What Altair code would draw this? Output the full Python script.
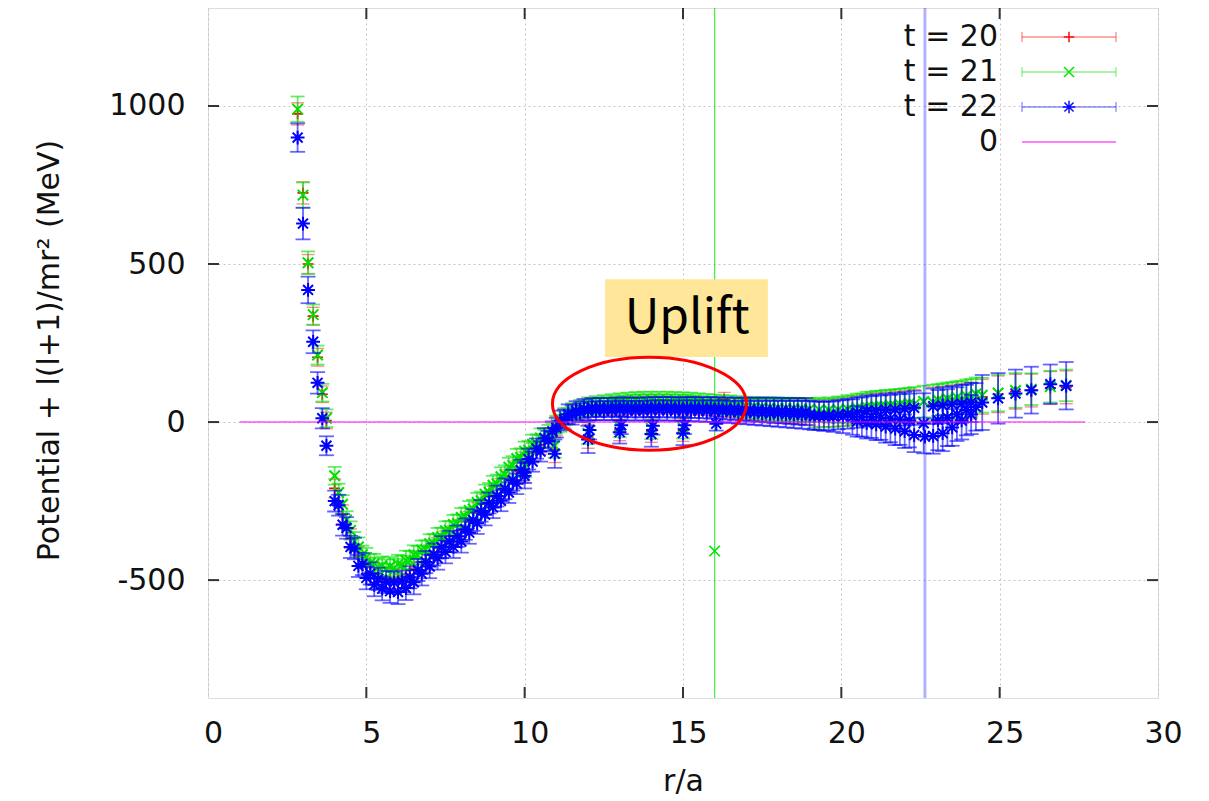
import altair as alt
import pandas as pd

# ------------------------------------------------------------------ data
# r/a positions shared by the three main series
R_MAIN = [2.83, 3.00, 3.16, 3.32, 3.46, 3.61, 3.74,
          4.00, 4.25, 4.50, 4.75, 5.00, 5.25, 5.50, 5.75, 6.00, 6.25, 6.50, 6.75,
          7.00, 7.25, 7.50, 7.75, 8.00, 8.25, 8.50, 8.75, 9.00, 9.25, 9.50, 9.75,
          10.00, 10.25, 10.50, 10.75, 11.00, 11.25, 11.50, 11.75,
          12.00, 12.25, 12.50, 12.75, 13.00, 13.25, 13.50, 13.75, 14.00, 14.25,
          14.50, 14.75, 15.00, 15.25, 15.50, 15.75, 16.00, 16.25, 16.50, 16.75,
          17.00, 17.25, 17.50, 17.75, 18.00, 18.25, 18.50, 18.75, 19.00,
          19.3, 19.6, 19.9, 20.2, 20.5, 20.8, 21.1, 21.4, 21.7, 22.0, 22.3, 22.9,
          23.2, 23.5, 23.8, 24.1,
          24.45, 24.95, 25.5, 26.0, 26.6, 27.1]

# t = 20 (red)
T20_V = [975, 725, 500, 335, 205, 88, 5,
         -210, -292, -369, -425, -460, -481, -491, -496, -494, -481, -463, -442,
         -421, -398, -377, -360, -340, -315, -287, -260, -235, -211, -183, -155,
         -126, -98, -72, -49, -13, 12, 28, 37,
         44, 46, 48, 50, 51, 52, 53, 54, 54, 54, 54, 53, 52, 52, 50, 50, 48,
         46, 44, 42, 40, 39, 38, 36, 35, 34, 33, 32, 31,
         28, 28, 30, 33, 36, 41, 42, 44, 45, 47, 50, 56, 58, 61, 64, 68,
         80, 88, 96, 100, 108, 110]
T20_E = [35, 35, 30, 28, 28, 26, 26,
         30, 30, 31, 31, 32, 32, 32, 32, 32, 32, 32, 32,
         32, 32, 32, 32, 32, 32, 32, 32, 32, 32, 32, 32,
         31, 31, 30, 30, 30, 29, 28, 28,
         28, 28, 28, 28, 28, 28, 28, 28, 28, 28, 28, 28, 28, 28, 28, 28, 28,
         29, 30, 31, 32, 33, 34, 35, 36, 37, 38, 39, 40,
         42, 43, 44, 45, 46, 48, 49, 50, 51, 52, 53, 54, 55, 56, 57, 58,
         55, 58, 55, 52, 52, 52]

# t = 21 (green)
T21_V = [990, 718, 504, 340, 212, 93, 12,
         -170, -260, -343, -395, -428, -447, -455, -457, -450, -437, -420, -405,
         -385, -365, -344, -324, -302, -280, -254, -228, -200, -173, -143, -115,
         -92, -70, -50, -38, -8, 17, 34, 44,
         53, 57, 60, 63, 66, 68, 70, 71, 71, 71, 71, 70, 69, 68, 66, 64, 62,
         59, 57, 54, 51, 49, 48, 46, 45, 44, 43, 42, 41,
         39, 38, 39, 41, 44, 48, 49, 50, 51, 53, 56, 62, 65, 68, 71, 76,
         85, 92, 100, 104, 112, 116]
T21_E = [40, 40, 36, 32, 30, 28, 28,
         28, 29, 29, 30, 30, 30, 30, 30, 30, 30, 30, 30,
         30, 30, 30, 30, 30, 30, 30, 30, 30, 30, 30, 30,
         30, 30, 30, 29, 28, 27, 26, 26,
         25, 25, 25, 25, 25, 25, 25, 25, 25, 25, 25, 25, 25, 25, 25, 25, 25,
         26, 27, 28, 29, 30, 31, 32, 33, 33, 34, 34, 35,
         38, 40, 42, 44, 46, 48, 50, 52, 53, 54, 55, 56, 57, 58, 59, 60,
         55, 58, 55, 50, 50, 50]

# t = 22 (blue)
T22_V = [900, 628, 418, 254, 124, 12, -75,
         -250, -325, -395, -455, -493, -515, -527, -535, -538, -525, -507, -480,
         -457, -431, -411, -395, -378, -350, -320, -293, -270, -249, -223, -195,
         -160, -125, -93, -60, -18, 8, 22, 30,
         35, 36, 36, 36, 37, 36, 36, 36, 37, 37, 37, 36, 36, 36, 35, 35, 34,
         34, 32, 31, 30, 29, 28, 27, 26, 25, 24, 23, 22,
         20, 20, 23, 26, 30, 35, 37, 39, 40, 42, 45, 50, 53, 56, 58, 62,
         62, 75, 90, 101, 120, 115]
T22_E = [45, 50, 42, 36, 34, 32, 30,
         33, 34, 35, 35, 36, 36, 37, 37, 38, 38, 38, 37,
         37, 36, 36, 35, 35, 35, 34, 34, 34, 33, 33, 33,
         33, 32, 32, 32, 31, 31, 30, 30,
         30, 30, 30, 30, 31, 31, 31, 31, 32, 32, 32, 32, 33, 33, 33, 34, 34,
         35, 35, 36, 37, 38, 39, 40, 41, 42, 43, 44, 45,
         45, 46, 46, 47, 48, 49, 50, 51, 52, 53, 54, 56, 57, 58, 60, 62,
         87, 80, 76, 74, 62, 75]

# second family of lattice points lying between the main r values (4.125 ... 18.875)
R_MID = [4.125, 4.375, 4.625, 4.875, 5.125, 5.375, 5.625, 5.875, 6.125, 6.375,
         6.625, 6.875, 7.125, 7.375, 7.625, 7.875, 8.125, 8.375, 8.625, 8.875,
         9.125, 9.375, 9.625, 9.875, 10.125, 10.375, 10.625, 10.875, 11.125, 11.375,
         11.625, 11.875, 12.125, 12.375, 12.625, 12.875, 13.125, 13.375, 13.625, 13.875,
         14.125, 14.375, 14.625, 14.875, 15.125, 15.375, 15.625, 15.875, 16.125, 16.375,
         16.625, 16.875, 17.125, 17.375, 17.625, 17.875, 18.125, 18.375, 18.625, 18.875]
T21_MV = [-223, -310, -377, -420, -446, -459, -464, -462, -452, -437,
          -421, -403, -383, -363, -342, -321, -299, -275, -249, -222,
          -195, -166, -137, -112, -89, -68, -52, -31, -4, 18,
          31, 41, 47, 51, 54, 57, 59, 61, 63, 63,
          63, 63, 63, 62, 61, 59, 57, 55, 53, 50,
          48, 45, 42, 41, 39, 38, 37, 36, 35, 34]
T21_ME = [28, 28, 29, 29, 29, 29, 29, 29, 29, 29,
          29, 29, 29, 29, 29, 29, 29, 29, 29, 29,
          29, 29, 29, 29, 29, 29, 28, 28, 27, 26,
          26, 25, 25, 25, 25, 25, 25, 25, 25, 25,
          25, 25, 25, 25, 25, 25, 25, 25, 26, 27,
          28, 29, 30, 31, 32, 32, 33, 33, 34, 34]
T22_MV = [-263, -335, -400, -449, -479, -496, -506, -508, -504, -491,
          -468, -443, -419, -396, -378, -361, -339, -310, -281, -256,
          -234, -211, -184, -152, -117, -84, -51, -30, 5, 25,
          36, 43, 46, 46, 46, 47, 47, 46, 46, 47,
          47, 47, 47, 46, 46, 46, 45, 45, 44, 43,
          42, 41, 40, 39, 38, 37, 36, 35, 34, 33]
T22_ME = [33, 34, 34, 35, 35, 35, 35, 34, 34, 35,
          35, 35, 35, 35, 34, 34, 34, 34, 34, 33,
          33, 33, 33, 33, 33, 32, 32, 32, 31, 31,
          30, 30, 30, 30, 30, 30, 31, 31, 31, 31,
          32, 32, 32, 32, 33, 33, 33, 34, 34, 35,
          35, 36, 37, 38, 39, 40, 40, 41, 42, 43]

# fan region between r = 19 and 24.5 (middle family)
R_FAN = [19.15, 19.45, 19.75, 20.05, 20.35, 20.65, 20.95, 21.25, 21.55, 21.85,
         22.15, 22.6, 23.05, 23.35, 23.65, 23.95, 24.25]
T21_FV = [27, 28, 30, 33, 38, 43, 48, 51, 53, 56, 59, 65, 70, 74, 78, 83, 89]
T21_FE = [45, 45, 45, 46, 46, 47, 47, 48, 48, 49, 49, 50, 50, 51, 51, 52, 52]
T22_FV = [20, 18, 17, 17, 16, 16, 16, 14, 11, 8, 5, -4, 6, 14, 25, 38, 48]
T22_FE = [45, 46, 48, 52, 56, 62, 66, 70, 75, 80, 85, 95, 95, 90, 85, 80, 75]

# additional points (on-axis "fingers", lower branch of the fan)
R20_X = [10.0, 10.95, 12.0, 13.0, 14.0, 15.0, 16.3]
T20_XV = [-155, -88, -45, -25, -28, -26, 72]
T20_XE = [36, 40, 38, 34, 36, 35, 22]

R21_X = [10.0, 10.95, 12.0, 13.0, 14.0, 15.0]
T21_XV = [-140, -75, -35, -15, -20, -18]
T21_XE = [35, 38, 35, 33, 34, 34]

R22_X = [10.0, 10.95, 12.0, 12.05, 13.0, 13.05, 14.0, 14.05, 15.0, 15.05, 16.05,
         20.5, 20.8, 21.1, 21.4, 21.7, 22.0, 22.3, 22.9, 23.2, 23.5, 23.8, 24.1]
T22_XV = [-170, -100, -55, -25, -32, -10, -38, -12, -35, -10, -5,
          2, -3, -7, -14, -21, -29, -41, -44, -35, -17, 5, 24]
T22_XE = [40, 45, 43, 30, 36, 28, 40, 28, 38, 28, 22,
          48, 49, 50, 51, 52, 53, 54, 56, 57, 58, 60, 62]

# outliers with enormous error bars
OUT21_R, OUT21_V, OUT21_E = [16.0], [-408], [4000]
OUT22_R, OUT22_V, OUT22_E = [22.64], [-46], [4000]

# zero line
ZERO_R = [1.0, 27.7]
ZERO_V = [0, 0]

X_TICKS = [0, 5, 10, 15, 20, 25, 30]
X_TICKS_INNER = [5, 10, 15, 20, 25]
Y_TICKS = [-500, 0, 500, 1000]
LEGEND = ["t = 20", "t = 21", "t = 22", "0"]

# ------------------------------------------------------------------ style
W, H = 950, 690
FONT = "DejaVu Sans"
RED, GREEN, BLUE, MAG = "#ff0000", "#00e000", "#0000ff", "#ff00ff"
FRAME = "#333333"

PLUS = "M -1 0 L 1 0 M 0 -1 L 0 1"
CROSS = "M -1 -1 L 1 1 M -1 1 L 1 -1"
STAR = "M -1 0 L 1 0 M 0 -1 L 0 1 M -0.72 -0.72 L 0.72 0.72 M -0.72 0.72 L 0.72 -0.72"
ELLIPSE = ("M -1 0 C -1 -0.2646 -0.5523 -0.479 0 -0.479 C 0.5523 -0.479 1 -0.2646 1 0 "
           "C 1 0.2646 0.5523 0.479 0 0.479 C -0.5523 0.479 -1 0.2646 -1 0 Z")

xs = alt.Scale(domain=[0, 30], nice=False, zero=False)
ys = alt.Scale(domain=[-873, 1310], nice=False, zero=False)

XAXIS = alt.Axis(values=X_TICKS, grid=True, gridDash=[2, 3], gridColor="#c4c4c4",
                 gridWidth=1, domain=False, ticks=False, tickSize=0,
                 labelFont=FONT, labelFontSize=30, labelColor="#111111",
                 labelPadding=20, labelOffset=5, labelFlush=False,
                 labelExpr="'' + datum.value",
                 titleFont=FONT, titleFontSize=30, titleFontWeight="normal",
                 titleColor="#111111", titleY=92, titleBaseline="alphabetic")
YAXIS = alt.Axis(values=Y_TICKS, grid=True, gridDash=[2, 3], gridColor="#c4c4c4",
                 gridWidth=1, domain=False, ticks=False, tickSize=0,
                 labelFont=FONT, labelFontSize=30, labelColor="#111111",
                 labelPadding=23, labelFlush=False,
                 labelExpr="'' + datum.value",
                 titleFont=FONT, titleFontSize=30, titleFontWeight="normal",
                 titleColor="#111111", titleAngle=270, titleX=-159, titleY=342,
                 titleAlign="center", titleBaseline="middle")
XT = "r/a"
YT = "Potential + l(l+1)/mr² (MeV)"


def X(field=None, **kw):
    if field is None:
        return alt.X(scale=xs, axis=XAXIS, title=XT, **kw)
    return alt.X(field, scale=xs, axis=XAXIS, title=XT)


def Y(field=None, **kw):
    if field is None:
        return alt.Y(scale=ys, axis=YAXIS, title=YT, **kw)
    return alt.Y(field, scale=ys, axis=YAXIS, title=YT)


def frame(r, v, e):
    return pd.DataFrame({"r": r, "v": v,
                         "lo": [a - b for a, b in zip(v, e)],
                         "hi": [a + b for a, b in zip(v, e)]})


def series(df, color, shape, msize, cap, bar_op=0.6, bar_w=1.8, mw=2.0):
    base = alt.Chart(df)
    bars = base.mark_rule(color=color, opacity=bar_op, strokeWidth=bar_w, clip=True).encode(
        x=X("r:Q"), y=Y("lo:Q"), y2="hi:Q")
    lo = base.mark_tick(orient="horizontal", color=color, opacity=bar_op, size=cap,
                        thickness=bar_w, clip=True).encode(x=X("r:Q"), y=Y("lo:Q"))
    hi = base.mark_tick(orient="horizontal", color=color, opacity=bar_op, size=cap,
                        thickness=bar_w, clip=True).encode(x=X("r:Q"), y=Y("hi:Q"))
    pts = base.mark_point(shape=shape, size=msize, color=color, opacity=1, strokeWidth=mw,
                          filled=False, clip=True).encode(x=X("r:Q"), y=Y("v:Q"))
    return [bars, lo, hi, pts]


layers = []

# inward ticks on all four sides
xt_df = pd.DataFrame({"t": X_TICKS_INNER})
yt_df = pd.DataFrame({"t": Y_TICKS})
tk = dict(color=FRAME, strokeWidth=2)
layers.append(alt.Chart(xt_df).mark_rule(**tk).encode(x=X("t:Q"), y=alt.value(H), y2=alt.value(H - 11)))
layers.append(alt.Chart(xt_df).mark_rule(**tk).encode(x=X("t:Q"), y=alt.value(0), y2=alt.value(11)))
layers.append(alt.Chart(yt_df).mark_rule(**tk).encode(y=Y("t:Q"), x=alt.value(0), x2=alt.value(11)))
layers.append(alt.Chart(yt_df).mark_rule(**tk).encode(y=Y("t:Q"), x=alt.value(W), x2=alt.value(W - 11)))

# t = 20
layers += series(frame(R_MAIN, T20_V, T20_E), RED, PLUS, 120, 13, bar_op=0.45, bar_w=1.4, mw=1.7)
layers += series(frame(R20_X, T20_XV, T20_XE), RED, PLUS, 120, 13, bar_op=0.45, bar_w=1.4, mw=1.7)
# t = 21
layers += series(frame(R_MAIN, T21_V, T21_E), GREEN, CROSS, 110, 14)
layers += series(frame(R_MID, T21_MV, T21_ME), GREEN, CROSS, 110, 14)
layers += series(frame(R_FAN, T21_FV, T21_FE), GREEN, CROSS, 110, 14)
layers += series(frame(R21_X, T21_XV, T21_XE), GREEN, CROSS, 110, 14)
layers += series(frame(OUT21_R, OUT21_V, OUT21_E), GREEN, CROSS, 110, 14, bar_op=0.75, bar_w=1.2, mw=1.6)
# t = 22
layers += series(frame(R_MAIN, T22_V, T22_E), BLUE, STAR, 190, 15)
layers += series(frame(R_MID, T22_MV, T22_ME), BLUE, STAR, 190, 15)
layers += series(frame(R_FAN, T22_FV, T22_FE), BLUE, STAR, 190, 15)
layers += series(frame(R22_X, T22_XV, T22_XE), BLUE, STAR, 190, 15)
layers += series(frame(OUT22_R, OUT22_V, OUT22_E), BLUE, STAR, 190, 15, bar_op=0.3, bar_w=3)

# zero line
zero_df = pd.DataFrame({"r": ZERO_R, "v": ZERO_V})
layers.append(alt.Chart(zero_df).mark_line(color=MAG, opacity=0.5, strokeWidth=2).encode(
    x=X("r:Q"), y=Y("v:Q")))

# legend (gnuplot style: label left, sample right)
one = pd.DataFrame({"k": [0]})
leg_colors = [RED, GREEN, BLUE, MAG]
leg_shapes = [PLUS, CROSS, STAR, None]
leg_sizes = [110, 100, 160, 0]
for i, lab in enumerate(LEGEND):
    yy = 29 + 35 * i
    c = leg_colors[i]
    layers.append(alt.Chart(one).mark_text(text=lab, align="right", baseline="middle", font=FONT,
                                           fontSize=30, color="#111111").encode(
        x=alt.value(790), y=alt.value(yy)))
    layers.append(alt.Chart(one).mark_rule(color=c, opacity=0.5 if i == 3 else 0.45,
                                           strokeWidth=2 if i == 3 else 1.3).encode(
        x=alt.value(814), x2=alt.value(908), y=alt.value(yy)))
    if leg_shapes[i] is not None:
        for xx in (814, 908):
            layers.append(alt.Chart(one).mark_rule(color=c, opacity=0.45, strokeWidth=1.3).encode(
                x=alt.value(xx), y=alt.value(yy - 5), y2=alt.value(yy + 5)))
        layers.append(alt.Chart(one).mark_point(shape=leg_shapes[i], size=leg_sizes[i], color=c,
                                                opacity=0.95, strokeWidth=1.5, filled=False).encode(
            x=alt.value(861), y=alt.value(yy)))

# "Uplift" annotation: box, text, ellipse
layers.append(alt.Chart(one).mark_rect(color="#ffe699").encode(
    x=X(datum=12.54), x2=alt.X2(datum=17.68), y=Y(datum=452), y2=alt.Y2(datum=206)))
layers.append(alt.Chart(one).mark_text(text="Uplift", font="Noto Sans CJK JP", fontSize=48,
                                       align="center", baseline="alphabetic", color="#000000").encode(
    x=X(datum=15.13), y=Y(datum=282)))
layers.append(alt.Chart(one).mark_point(shape=ELLIPSE, size=37636, filled=False, color="#ff0000",
                                        strokeWidth=3, opacity=1).encode(
    x=X(datum=13.94), y=Y(datum=58)))

chart = alt.layer(*layers).properties(
    width=W, height=H,
    autosize=alt.AutoSizeParams(type="none"),
    padding={"left": 200, "top": 0, "right": 40, "bottom": 100},
).configure_view(stroke=FRAME, strokeWidth=2).configure(background="white")

chart.save("out.html", embed_options={"renderer": "svg", "actions": False})
